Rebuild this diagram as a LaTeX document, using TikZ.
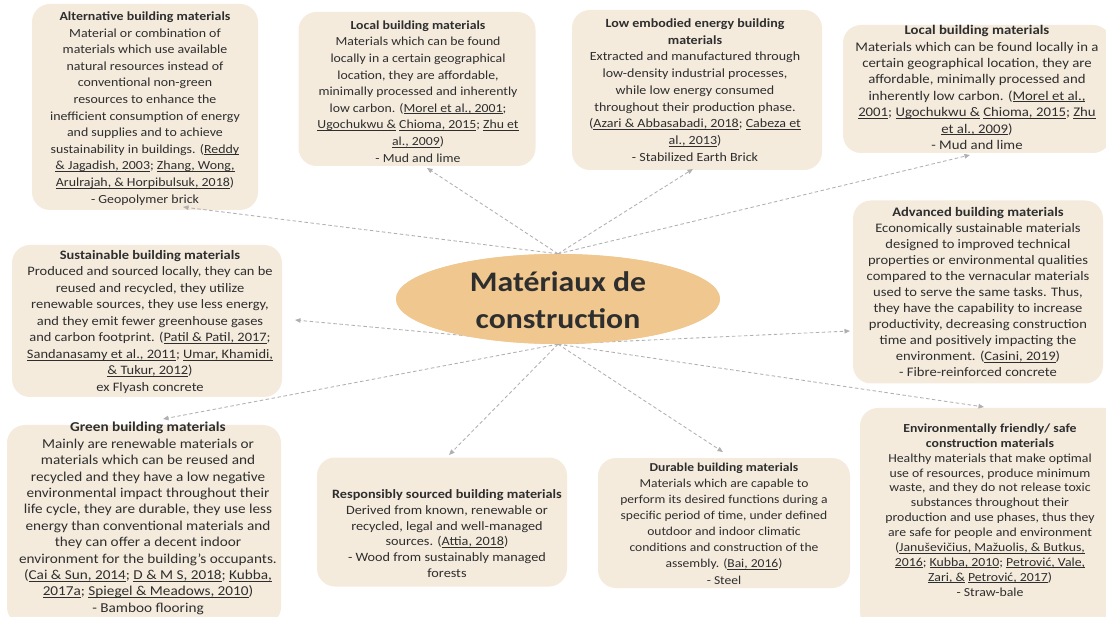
\documentclass[tikz,border=0pt]{standalone}
\usepackage{fontspec}
\setmainfont{Carlito}[FakeStretch=1.12]
\usetikzlibrary{arrows.meta,shapes.geometric}
\definecolor{boxfill}{HTML}{F4EBDD}
\definecolor{hubfill}{HTML}{F0C88F}
\definecolor{txtc}{HTML}{2E2E2E}
\definecolor{linec}{HTML}{B0B0B0}
\newcommand\lnk[1]{\setbox0\hbox{#1}\rlap{\rule[-1.6pt]{\wd0}{0.55pt}}\box0\relax}
\newcommand\fs[2]{\fontsize{#1}{#2}\selectfont}
\begin{document}
\begin{tikzpicture}[x=1pt,y=-1pt,
  box/.style={rectangle, rounded corners=18pt, fill=boxfill, draw=none, inner sep=0pt},
  txt/.style={align=center, inner sep=0pt, text=txtc},
  conn/.style={draw=linec, line width=0.85pt, dash pattern=on 3.5pt off 2.5pt,
    -{Triangle[length=5.5pt,width=4.5pt,fill=linec]}}]
\useasboundingbox (0,0) rectangle (1106,617);
\fill[white] (0,0) rectangle (1106,617);
\clip (0,0) rectangle (1106,617);

% boxes
\node[box, minimum width=226pt, minimum height=206pt] (altB) at (145,107) {};
\node[box, minimum width=237pt, minimum height=154pt] (loc2B) at (417,89) {};
\node[box, minimum width=250pt, minimum height=160pt] (lowB) at (697,90) {};
\node[box, minimum width=268pt, minimum height=128pt] (locRB) at (977,89) {};
\node[box, minimum width=250pt, minimum height=183pt] (advB) at (978,292) {};
\node[box, minimum width=270pt, minimum height=152pt] (susB) at (147,321) {};
\node[box, minimum width=274pt, minimum height=200pt] (greenB) at (144,525) {};
\node[box, minimum width=250pt, minimum height=129pt] (respB) at (442,522) {};
\node[box, minimum width=252pt, minimum height=130pt] (durB) at (724,523) {};
\node[box, minimum width=262pt, minimum height=222pt] (envB) at (991,519) {};

% hub
\node[ellipse, fill=hubfill, minimum width=324pt, minimum height=90pt, inner sep=0pt] (hub) at (558,299) {};

% arrow tips
\coordinate (tAlt) at (183,207);
\coordinate (tLoc2) at (427,168);
\coordinate (tLow) at (693,169);
\coordinate (tLocR) at (970,155);
\coordinate (tSus) at (295,320);
\coordinate (tAdv) at (850,331);
\coordinate (tGreen) at (163,419);
\coordinate (tResp) at (449,455);
\coordinate (tDur) at (723,452);
\coordinate (tEnv) at (984,407);

\draw[conn] (hub.north) -- (tAlt);
\draw[conn] (hub.north) -- (tLoc2);
\draw[conn] (hub.north) -- (tLow);
\draw[conn] (hub.north) -- (tLocR);
\draw[conn] (hub.south) -- (tSus);
\draw[conn] (hub.south) -- (tAdv);
\draw[conn] (hub.south) -- (tGreen);
\draw[conn] (hub.south) -- (tResp);
\draw[conn] (hub.south) -- (tDur);
\draw[conn] (hub.south) -- (tEnv);

\fill[hubfill] (hub.center) ellipse [x radius=162pt, y radius=45pt];
\node[txt, font=\fs{28.3}{37}\bfseries] (hubT) at (558,300) {Matériaux de\\construction};

% texts
\node[txt, font=\fs{12.4}{16.6}] (alt) at (145,108.5) {\textbf{Alternative building materials}\\
Material or combination of\\
materials which use available\\
natural resources instead of\\
conventional non-green\\
resources to enhance the\\
inefficient consumption of energy\\
and supplies and to achieve\\
sustainability in buildings. (\lnk{Reddy}\\
\lnk{\& Jagadish, 2003}; \lnk{Zhang, Wong,}\\
\lnk{Arulrajah, \& Horpibulsuk, 2018})\\
- Geopolymer brick};

\node[txt, font=\fs{12.3}{16.6}] (loc2) at (418,91.5) {\textbf{Local building materials}\\
Materials which can be found\\
locally in a certain geographical\\
location, they are affordable,\\
minimally processed and inherently\\
low carbon. (\lnk{Morel et al., 2001};\\
\lnk{Ugochukwu \&} \lnk{Chioma, 2015}; \lnk{Zhu et}\\
\lnk{al., 2009})\\
- Mud and lime};

\node[txt, font=\fs{12.5}{16.75}] (low) at (695,90) {\textbf{Low embodied energy building}\\
\textbf{materials}\\
Extracted and manufactured through\\
low-density industrial processes,\\
while low energy consumed\\
throughout their production phase.\\
(\lnk{Azari \& Abbasabadi, 2018}; \lnk{Cabeza et}\\
\lnk{al., 2013})\\
- Stabilized Earth Brick};

\node[txt, font=\fs{13.2}{16.4}] (locR) at (977,87.5) {\textbf{Local building materials}\\
Materials which can be found locally in a\\
certain geographical location, they are\\
affordable, minimally processed and\\
inherently low carbon. (\lnk{Morel et al.,}\\
\lnk{2001}; \lnk{Ugochukwu \&} \lnk{Chioma, 2015}; \lnk{Zhu}\\
\lnk{et al., 2009})\\
- Mud and lime};

\node[txt, font=\fs{13}{16}] (adv) at (978,292) {\textbf{Advanced building materials}\\
Economically sustainable materials\\
designed to improved technical\\
properties or environmental qualities\\
compared to the vernacular materials\\
used to serve the same tasks. Thus,\\
they have the capability to increase\\
productivity, decreasing construction\\
time and positively impacting the\\
environment. (\lnk{Casini, 2019})\\
- Fibre-reinforced concrete};

\node[txt, font=\fs{12.9}{16.5}] (sus) at (150,322) {\textbf{Sustainable building materials}\\
Produced and sourced locally, they can be\\
reused and recycled, they utilize\\
renewable sources, they use less energy,\\
and they emit fewer greenhouse gases\\
and carbon footprint. (\lnk{Patil \& Patil, 2017};\\
\lnk{Sandanasamy et al., 2011}; \lnk{Umar, Khamidi,}\\
\lnk{\& Tukur, 2012})\\
ex Flyash concrete};

\node[txt, font=\fs{13.6}{16.4}] (green) at (148,518.5) {\textbf{Green building materials}\\
Mainly are renewable materials or\\
materials which can be reused and\\
recycled and they have a low negative\\
environmental impact throughout their\\
life cycle, they are durable, they use less\\
energy than conventional materials and\\
they can offer a decent indoor\\
environment for the building’s occupants.\\
(\lnk{Cai \& Sun, 2014}; \lnk{D \& M S, 2018}; \lnk{Kubba,}\\
\lnk{2017a}; \lnk{Spiegel \& Meadows, 2010})\\
- Bamboo flooring};

\node[txt, font=\fs{12.7}{15.8}] (resp) at (447,533.5) {\textbf{Responsibly sourced building materials}\\
Derived from known, renewable or\\
recycled, legal and well-managed\\
sources. (\lnk{Attia, 2018})\\
- Wood from sustainably managed\\
forests};

\node[txt, font=\fs{12.1}{16.1}] (dur) at (724,523.5) {\textbf{Durable building materials}\\
Materials which are capable to\\
perform its desired functions during a\\
specific period of time, under defined\\
outdoor and indoor climatic\\
conditions and construction of the\\
assembly. (\lnk{Bai, 2016})\\
- Steel};

\node[txt, font=\fs{12.3}{14.9}] (env) at (990,510) {\textbf{Environmentally friendly/ safe}\\
\textbf{construction materials}\\
Healthy materials that make optimal\\
use of resources, produce minimum\\
waste, and they do not release toxic\\
substances throughout their\\
production and use phases, thus they\\
are safe for people and environment\\
(\lnk{Januševičius, Mažuolis, \& Butkus,}\\
\lnk{2016}; \lnk{Kubba, 2010}; \lnk{Petrović, Vale,}\\
\lnk{Zari, \&} \lnk{Petrović, 2017})\\
- Straw-bale};
\end{tikzpicture}
\end{document}
